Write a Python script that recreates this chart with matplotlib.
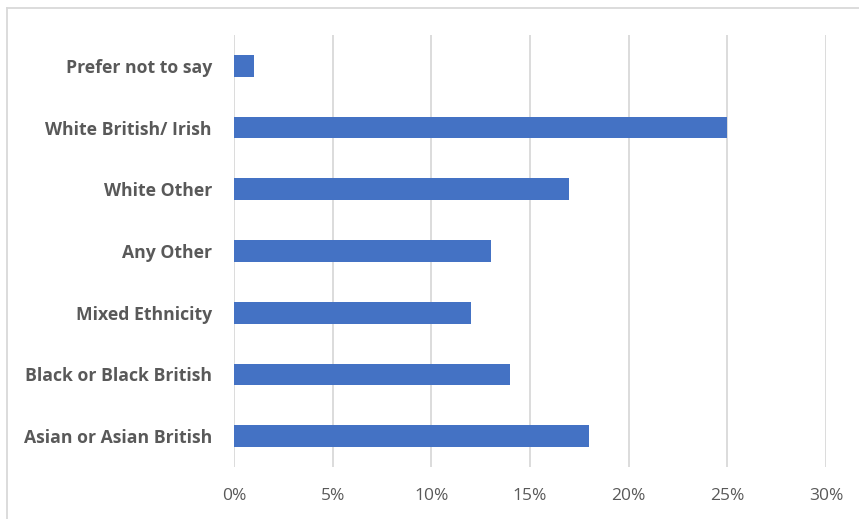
import matplotlib.pyplot as plt
from matplotlib.lines import Line2D
from matplotlib.ticker import FuncFormatter

categories = ["Asian or Asian British", "Black or Black British", "Mixed Ethnicity",
              "Any Other", "White Other", "White British/ Irish", "Prefer not to say"]
values = [18, 14, 12, 13, 17, 25, 1]
x_ticks = [0, 5, 10, 15, 20, 25, 30]

W, H = 859, 519
fig = plt.figure(figsize=(W / 100, H / 100), dpi=100)
fig.patch.set_facecolor("white")

# plot area in pixels: left 234, right 826, top 35, bottom 467
ax = fig.add_axes([234 / W, 1 - 467 / H, (826 - 234) / W, (467 - 35) / H])

ax.barh(range(len(categories)), values, height=0.35, color="#4472C4", zorder=3)
ax.set_xlim(0, 30)
ax.set_ylim(-0.5, len(categories) - 0.5)

ax.set_xticks(x_ticks)
ax.xaxis.set_major_formatter(FuncFormatter(lambda v, p: f"{v:.0f}%"))
ax.set_yticks(range(len(categories)))
ax.set_yticklabels(categories, fontweight="bold")

ax.grid(axis="x", color="#D9D9D9", linewidth=1.3, zorder=0)
for s in ax.spines.values():
    s.set_visible(False)
ax.tick_params(axis="both", length=0, colors="#595959")
ax.tick_params(axis="x", pad=15, labelsize=12.5)
ax.tick_params(axis="y", pad=16, labelsize=12.7)
for lbl in ax.get_yticklabels() + ax.get_xticklabels():
    lbl.set_fontfamily("Open Sans")
    lbl.set_color("#595959")

# outer chart frame (top and left edges visible)
fig.add_artist(Line2D([7 / W, 7 / W], [0, 1 - 8 / H], color="#D9D9D9", linewidth=1.3))
fig.add_artist(Line2D([7 / W, 1], [1 - 8 / H, 1 - 8 / H], color="#D9D9D9", linewidth=1.3))

fig.savefig("out.png", dpi=100)
